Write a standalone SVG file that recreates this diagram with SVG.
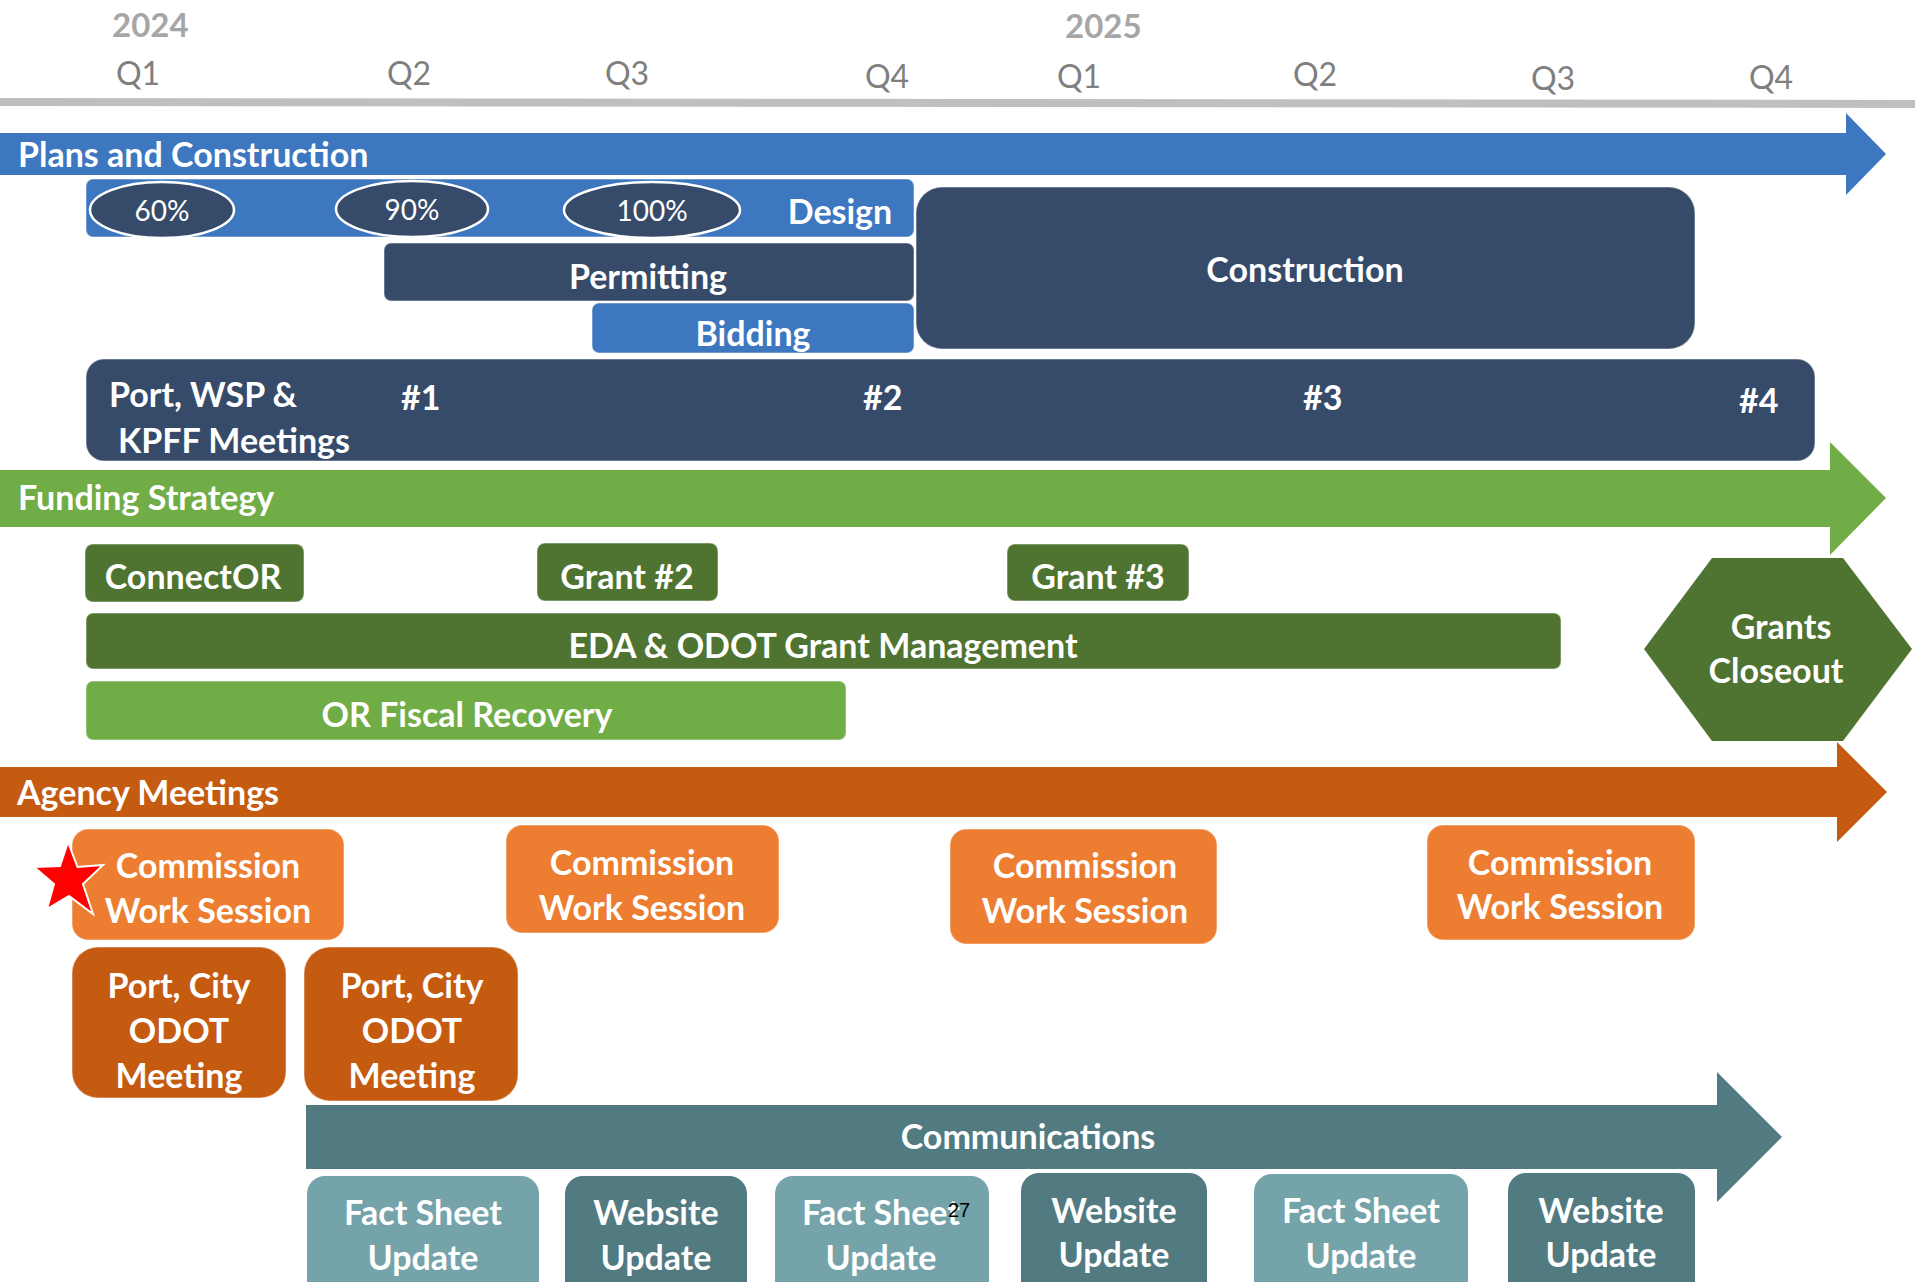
<svg xmlns="http://www.w3.org/2000/svg" width="1915" height="1282" viewBox="0 0 1915 1282">
<style>
text{font-family:Lato,"Open Sans","Liberation Sans",sans-serif;fill:#fff;font-weight:700;font-size:34px}
.c{text-anchor:middle}
.yr{fill:#A6A6A6;font-size:33px}
.q{fill:#7F7F7F;font-weight:400;font-size:32px}
.pct{font-weight:400;font-size:28px;text-anchor:middle}
.blue{fill:#3D77BF}
.navy{fill:#364B69}
.lg{fill:#70AD47}
.dg{fill:#4F7431}
.do{fill:#C55A11}
.lo{fill:#ED7D31}
.tl{fill:#517A81}
.lt{fill:#75A3AA}
.bx{stroke:#fff;stroke-opacity:.35;stroke-width:1.5}
.el{fill:#364B69;stroke:#fff;stroke-width:2.5}
.pg{fill:#000;font-family:"Liberation Sans",Arial,sans-serif;font-weight:400;font-size:20px}
</style>
<rect width="1915" height="1282" fill="#fff"/>
<g id="timeline">
<text class="yr" x="112" y="37">2024</text>
<text class="yr" x="1065" y="38">2025</text>
<text class="q" x="116" y="85">Q1</text>
<text class="q" x="387" y="85">Q2</text>
<text class="q" x="605" y="85">Q3</text>
<text class="q" x="865" y="88">Q4</text>
<text class="q" x="1057" y="88">Q1</text>
<text class="q" x="1293" y="86">Q2</text>
<text class="q" x="1531" y="90">Q3</text>
<text class="q" x="1749" y="89">Q4</text>
<polygon points="0,98 1915,100 1915,108 0,106" fill="#BFBFBF"/>
</g>
<g id="connectors"></g>
<g id="lane-plans">
<polygon class="blue" points="0,133 1846,133 1846,113 1886,154 1846,195 1846,175 0,175"/>
<text x="18" y="167">Plans and Construction</text>
</g>
<g id="design">
<rect class="blue bx" x="86" y="179" width="828" height="58" rx="7"/>
<text x="840" y="224" class="c">Design</text>
</g>
<g id="m60"><ellipse class="el" cx="162" cy="210" rx="72" ry="28"/><text class="pct" x="162" y="221">60%</text></g>
<g id="m90"><ellipse class="el" cx="412" cy="209" rx="76" ry="28"/><text class="pct" x="412" y="220">90%</text></g>
<g id="m100"><ellipse class="el" cx="652" cy="210" rx="88" ry="28"/><text class="pct" x="652" y="221">100%</text></g>
<g id="permitting">
<rect class="navy bx" x="384" y="243" width="530" height="58" rx="7"/>
<text x="648" y="289" class="c">Permitting</text>
</g>
<g id="bidding">
<rect class="blue bx" x="592" y="303" width="322" height="50" rx="7"/>
<text x="753" y="346" class="c">Bidding</text>
</g>
<g id="construction">
<rect class="navy bx" x="916" y="187" width="779" height="162" rx="26"/>
<text x="1305" y="282" class="c">Construction</text>
</g>
<g id="meetings">
<rect class="navy bx" x="86" y="359" width="1729" height="102" rx="18"/>
<text x="109" y="407">Port, WSP &amp;</text>
<text x="118" y="453">KPFF Meetings</text>
<text x="401" y="410">#1</text>
<text x="863" y="410">#2</text>
<text x="1303" y="410">#3</text>
<text x="1739" y="413">#4</text>
</g>
<g id="lane-funding">
<polygon class="lg" points="0,470 1830,470 1830,442 1886,498 1830,555 1830,527 0,527"/>
<text x="18" y="510">Funding Strategy</text>
</g>
<g id="connector-grant">
<rect class="dg bx" x="85" y="544" width="219" height="58" rx="8"/>
<text x="193" y="589" class="c">ConnectOR</text>
</g>
<g id="grant2">
<rect class="dg bx" x="537" y="543" width="181" height="58" rx="8"/>
<text x="627" y="589" class="c">Grant #2</text>
</g>
<g id="grant3">
<rect class="dg bx" x="1007" y="544" width="182" height="57" rx="8"/>
<text x="1098" y="589" class="c">Grant #3</text>
</g>
<g id="eda">
<rect class="dg bx" x="86" y="613" width="1475" height="56" rx="7"/>
<text x="823" y="658" class="c">EDA &amp; ODOT Grant Management</text>
</g>
<g id="orfiscal">
<rect class="lg bx" x="86" y="681" width="760" height="59" rx="7"/>
<text x="467" y="727" class="c">OR Fiscal Recovery</text>
</g>
<g id="closeout">
<polygon class="dg" points="1712,558 1843,558 1912,649 1843,741 1712,741 1644,649"/>
<text x="1781" y="639" class="c">Grants</text>
<text x="1776" y="683" class="c">Closeout</text>
</g>
<g id="lane-agency">
<polygon class="do" points="0,767 1837,767 1837,742 1887,792 1837,842 1837,817 0,817"/>
<text x="17" y="805">Agency Meetings</text>
</g>
<g id="cws1">
<rect class="lo bx" x="72" y="829" width="272" height="111" rx="16"/>
<text x="208" y="878" class="c">Commission</text>
<text x="208" y="923" class="c">Work Session</text>
</g>
<g id="star">
<polygon points="68,842 77.5,867 103,865 83,884 93,914 69,896 47,909 54,884 34,867 60,866" fill="#FF0000" stroke="#fff" stroke-width="2"/>
</g>
<g id="cws2">
<rect class="lo bx" x="506" y="825" width="273" height="108" rx="16"/>
<text x="642" y="875" class="c">Commission</text>
<text x="642" y="920" class="c">Work Session</text>
</g>
<g id="cws3">
<rect class="lo bx" x="950" y="829" width="267" height="115" rx="16"/>
<text x="1085" y="878" class="c">Commission</text>
<text x="1085" y="923" class="c">Work Session</text>
</g>
<g id="cws4">
<rect class="lo bx" x="1427" y="825" width="268" height="115" rx="16"/>
<text x="1560" y="875" class="c">Commission</text>
<text x="1560" y="919" class="c">Work Session</text>
</g>
<g id="pco1">
<rect class="do bx" x="72" y="947" width="214" height="151" rx="26"/>
<text x="179" y="998" class="c">Port, City</text>
<text x="179" y="1043" class="c">ODOT</text>
<text x="179" y="1088" class="c">Meeting</text>
</g>
<g id="pco2">
<rect class="do bx" x="304" y="947" width="214" height="154" rx="26"/>
<text x="412" y="998" class="c">Port, City</text>
<text x="412" y="1043" class="c">ODOT</text>
<text x="412" y="1088" class="c">Meeting</text>
</g>
<g id="lane-comms">
<polygon class="tl" points="306,1105 1717,1105 1717,1072 1782,1137 1717,1202 1717,1169 306,1169"/>
<text x="1028" y="1149" class="c">Communications</text>
</g>
<g id="fs1">
<rect class="lt" x="307" y="1176" width="232" height="130" rx="18"/>
<text x="423" y="1225" class="c">Fact Sheet</text>
<text x="423" y="1270" class="c">Update</text>
</g>
<g id="wu1">
<rect class="tl" x="565" y="1176" width="182" height="130" rx="18"/>
<text x="656" y="1225" class="c">Website</text>
<text x="656" y="1270" class="c">Update</text>
</g>
<g id="fs2">
<rect class="lt" x="775" y="1176" width="214" height="130" rx="18"/>
<text x="881" y="1225" class="c">Fact Sheet</text>
<text x="881" y="1270" class="c">Update</text>
</g>
<g id="wu2">
<rect class="tl" x="1021" y="1173" width="186" height="130" rx="18"/>
<text x="1114" y="1223" class="c">Website</text>
<text x="1114" y="1267" class="c">Update</text>
</g>
<g id="fs3">
<rect class="lt" x="1254" y="1174" width="214" height="130" rx="18"/>
<text x="1361" y="1223" class="c">Fact Sheet</text>
<text x="1361" y="1268" class="c">Update</text>
</g>
<g id="wu3">
<rect class="tl" x="1508" y="1173" width="187" height="130" rx="18"/>
<text x="1601" y="1223" class="c">Website</text>
<text x="1601" y="1267" class="c">Update</text>
</g>
<text class="pg" x="948" y="1217">27</text>
</svg>
